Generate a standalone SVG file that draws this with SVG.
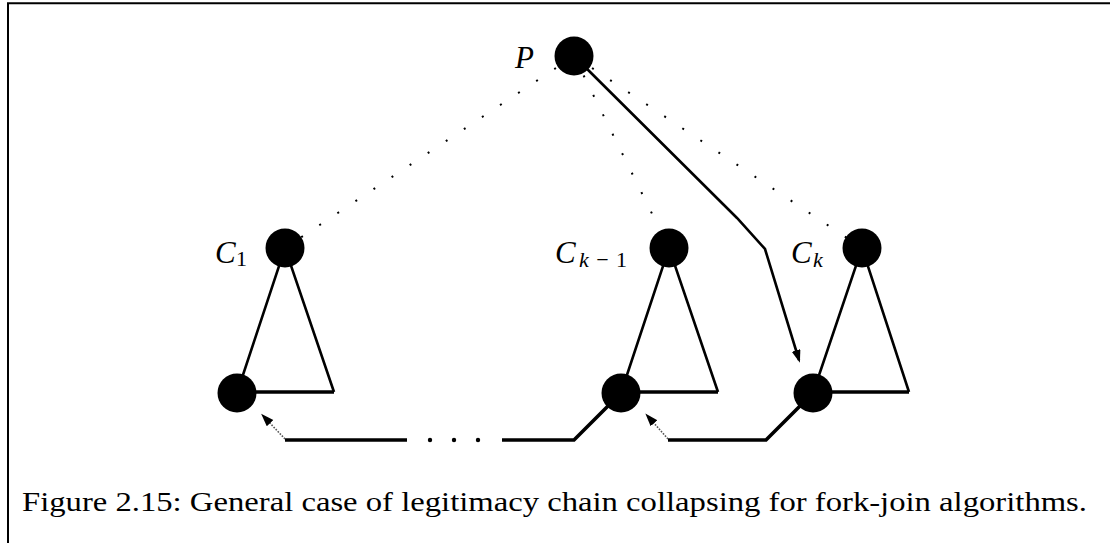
<svg xmlns="http://www.w3.org/2000/svg" width="1110" height="543" viewBox="0 0 1110 543">
  <style>
    .node { fill: #000; }
    .edge { fill: none; stroke: #000; stroke-width: 2.6; stroke-linejoin: miter; }
    .base { fill: none; stroke: #000; stroke-width: 3.4; }
    .dots { fill: none; stroke: #000; stroke-width: 2; stroke-dasharray: 2 19.7; }
    .chain { fill: none; stroke: #000; stroke-width: 3.6; }
    .hint { fill: none; stroke: #555; stroke-width: 1.6; stroke-dasharray: 1.6 1.4; }
    .lbl { font-family: "Liberation Serif", "DejaVu Serif", serif; fill: #000; }
    .it { font-style: italic; }
  </style>
  <defs>
    <marker id="head" markerUnits="userSpaceOnUse" markerWidth="14" markerHeight="10" refX="10" refY="4.5" orient="auto">
      <path d="M0,0 L13,4.5 L0,9 z" fill="#000"/>
    </marker>
    <marker id="headSmall" markerUnits="userSpaceOnUse" markerWidth="14" markerHeight="10" refX="3" refY="4.5" orient="auto">
      <path d="M0,0 L13,4.5 L0,9 z" fill="#000"/>
    </marker>
  </defs>

  <rect width="1110" height="543" fill="#fff"/>

  <!-- frame -->
  <path d="M8,543 V3.3 H1110" fill="none" stroke="#000" stroke-width="2"/>

  <!-- connectors -->
  <g id="connectors">
    <!-- dotted parent/child links -->
    <line class="dots" x1="574" y1="56" x2="285" y2="248"/>
    <line class="dots" x1="574" y1="56" x2="669" y2="248"/>
    <line class="dots" x1="574" y1="56" x2="862" y2="248"/>

    <!-- subtree triangles -->
    <path class="edge" d="M285,248 L237,393 M285,248 L334,392"/>
    <path class="base" d="M237,392 H334"/>
    <path class="edge" d="M669,248 L621,393 M669,248 L718,392"/>
    <path class="base" d="M621,392 H718"/>
    <path class="edge" d="M862,248 L813,393 M862,248 L909,392"/>
    <path class="base" d="M813,392 H909"/>

    <!-- chain from parent into last child -->
    <path class="edge" d="M574,56 L737,218 L765,249 L799,360" marker-end="url(#head)"/>

    <!-- collapsing chain along the bottom -->
    <path class="chain" d="M813,393 L766,440 H668"/>
    <path class="chain" d="M621,393 L574,440 H502"/>
    <path class="chain" d="M407,440 H285"/>
    <circle cx="430" cy="440" r="2.2" class="node"/>
    <circle cx="454" cy="440" r="2.2" class="node"/>
    <circle cx="478" cy="440" r="2.2" class="node"/>

    <!-- short pointers back to the subtree roots -->
    <line class="hint" x1="285" y1="439" x2="268" y2="421" marker-end="url(#headSmall)"/>
    <line class="hint" x1="668" y1="439" x2="652" y2="421" marker-end="url(#headSmall)"/>
  </g>

  <!-- nodes -->
  <g id="P">
    <circle class="node" cx="574" cy="56" r="19.5"/>
    <text class="lbl it" x="515" y="68" font-size="31">P</text>
  </g>
  <g id="C1">
    <circle class="node" cx="285" cy="248" r="19.5"/>
    <circle class="node" cx="237" cy="393" r="19.5"/>
    <text class="lbl it" x="215" y="263" font-size="31">C</text>
    <text class="lbl" x="236" y="266" font-size="22">1</text>
  </g>
  <g id="Ck-1">
    <circle class="node" cx="669" cy="248" r="19.5"/>
    <circle class="node" cx="621" cy="393" r="19.5"/>
    <text class="lbl it" x="555" y="263" font-size="31">C</text>
    <text class="lbl" x="579" y="267" font-size="22" textLength="48" lengthAdjust="spacing"><tspan class="it">k</tspan>−1</text>
  </g>
  <g id="Ck">
    <circle class="node" cx="862" cy="248" r="19.5"/>
    <circle class="node" cx="813" cy="393" r="19.5"/>
    <text class="lbl it" x="791" y="263" font-size="31">C</text>
    <text class="lbl it" x="813" y="267" font-size="22">k</text>
  </g>

  <!-- caption -->
  <text class="lbl" x="22" y="511" font-size="28" textLength="1065" lengthAdjust="spacingAndGlyphs">Figure 2.15: General case of legitimacy chain collapsing for fork-join algorithms.</text>
</svg>
